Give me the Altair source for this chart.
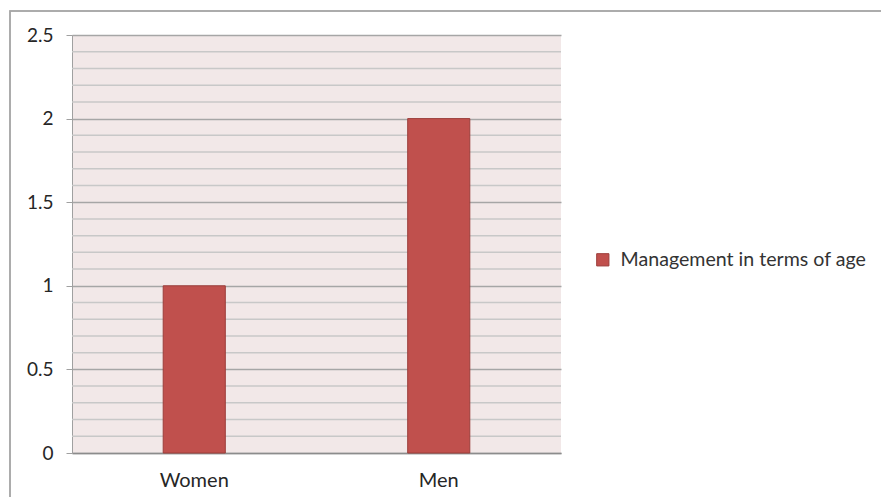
import altair as alt
import pandas as pd

categories = ["Women", "Men"]
values = [1, 2]
series_name = "Management in terms of age"
major_ticks = [0, 0.5, 1, 1.5, 2, 2.5]
minor_ticks = [0.1, 0.2, 0.3, 0.4, 0.6, 0.7, 0.8, 0.9, 1.1, 1.2, 1.3, 1.4,
               1.6, 1.7, 1.8, 1.9, 2.1, 2.2, 2.3, 2.4]

df = pd.DataFrame({"category": categories, "value": values, "series": [series_name] * len(categories)})

FONT = "Lato"

y_scale = alt.Scale(domain=[0, 2.5], nice=False)
y_axis = alt.Axis(values=major_ticks, format="~g", grid=True, gridColor="#A6A6A6", gridWidth=1.5,
                  domainColor="#A0A0A0", tickColor="#A0A0A0", tickSize=6, labelPadding=13,
                  labelFontSize=19, labelColor="#262626", labelFont=FONT)

bars = alt.Chart(df).mark_bar(stroke="#9C3E3B", strokeWidth=1).encode(
    x=alt.X("category:N", sort=categories, title=None,
            scale=alt.Scale(paddingInner=0.746, paddingOuter=0.373),
            axis=alt.Axis(labelAngle=0, ticks=False, domainColor="#8C8C8C", domainWidth=1.5,
                          labelFontSize=20, labelPadding=17, labelColor="#262626", labelFont=FONT)),
    y=alt.Y("value:Q", scale=y_scale, title=None, axis=y_axis),
    color=alt.Color("series:N", scale=alt.Scale(range=["#C0504D"]), title=None,
                    legend=alt.Legend(orient="none", legendX=521, legendY=215, symbolType="square",
                                      symbolSize=150, symbolStrokeColor="#9C3E3B", symbolStrokeWidth=1,
                                      labelFontSize=19.6, labelColor="#333333", labelFont=FONT,
                                      labelOffset=8, labelLimit=400)),
)

minor = alt.Chart(pd.DataFrame({"v": minor_ticks})).mark_rule(color="#C8C8C8", strokeWidth=1.5).encode(
    y=alt.Y("v:Q", scale=y_scale, title=None, axis=y_axis)
)

frame = alt.Chart(df).mark_rect(fill=None, stroke="#A6A6A6", strokeWidth=1.5).encode(
    x=alt.value(-62), x2=alt.value(900), y=alt.value(-24), y2=alt.value(600)
)

chart = alt.layer(minor, bars, frame).properties(
    width=489, height=418,
    background="white",
    autosize=alt.AutoSizeParams(type="none"),
    padding={"left": 72, "top": 35, "right": 320, "bottom": 44},
).configure_view(fill="#F2E8E8", stroke=None)

chart.save("out.html", embed_options={"renderer": "svg", "actions": False})
